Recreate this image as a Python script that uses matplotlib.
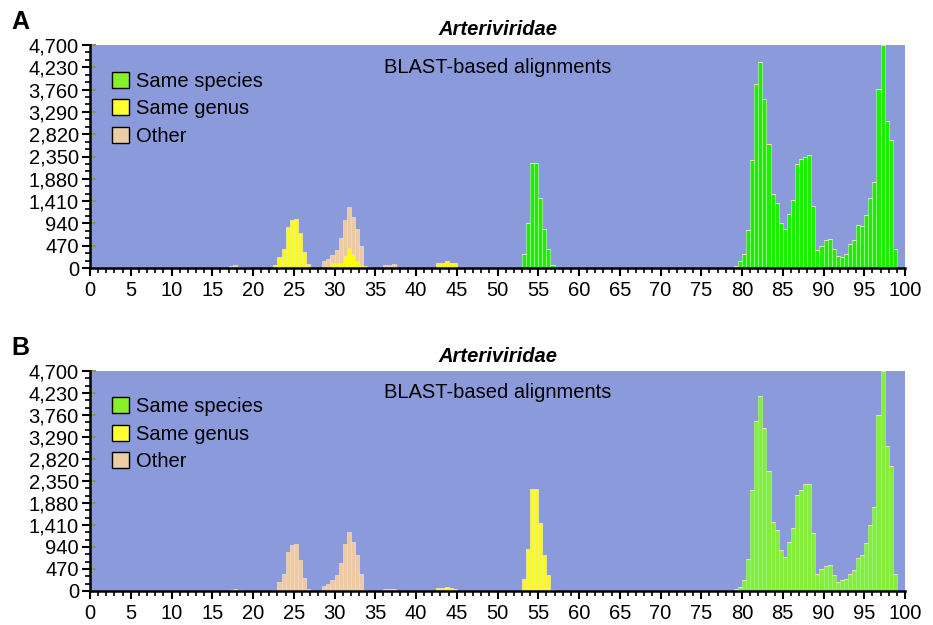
import numpy as np
import matplotlib
matplotlib.use('Agg')
from matplotlib import pyplot as plt
from matplotlib.patches import Patch
from matplotlib.ticker import MultipleLocator, FuncFormatter

plt.rcParams['font.family'] = ['Liberation Sans', 'DejaVu Sans']

# histogram bins: 0.5 wide, from 0 to 100 (% identity)
bin_width = 0.5
bin_left = np.arange(0, 100, bin_width)

# Panel A data (bin left edge -> count)
a_other_x = [17, 17.5, 18, 18.5, 19,
             28.5, 29, 29.5, 30, 30.5, 31, 31.5, 32, 32.5, 33, 33.5,
             36, 36.5, 37]
a_other_y = [40, 60, 25, 20, 15,
             155, 200, 167, 267, 520, 753, 879, 788, 668, 401, 50,
             70, 70, 80]
a_genus_x = [22.5, 23, 23.5, 24, 24.5, 25, 25.5, 26, 26.5,
             29.5, 30, 30.5, 31, 31.5, 32, 32.5, 33,
             42.5, 43, 43.5, 44, 44.5]
a_genus_y = [60, 240, 400, 860, 1013, 1027, 730, 330, 85,
             113, 113, 113, 260, 415, 295, 155, 70,
             100, 110, 140, 110, 100]
a_species_x = [53, 53.5, 54, 54.5, 55, 55.5, 56, 56.5] + list(np.arange(79, 99, 0.5))
a_species_y = [289, 957, 2209, 2223, 1470, 816, 408, 63,
               50, 140, 297, 793, 2280, 3873, 4347, 3554, 2613, 1550,
               1380, 956, 828, 1133, 1430, 2188, 2301, 2350, 2372, 1303,
               382, 460, 580, 602, 404, 262, 227, 297, 496, 580,
               913, 878, 1126, 1466, 1820, 3767, 4700, 3108, 2705, 404]

# Panel B data
b_other_x = [17, 17.5, 18,
             22.5, 23, 23.5, 24, 24.5, 25, 25.5, 26, 26.5,
             28.5, 29, 29.5, 30, 30.5, 31, 31.5, 32, 32.5, 33, 33.5,
             36, 36.5, 37]
b_other_y = [30, 50, 20,
             29, 193, 372, 837, 980, 994, 672, 286, 50,
             107, 157, 229, 336, 600, 994, 1266, 1051, 779, 372, 29,
             36, 36, 36]
b_genus_x = [42.5, 43, 43.5, 44, 44.5,
             53, 53.5, 54, 54.5, 55, 55.5, 56, 56.5]
b_genus_y = [60, 70, 85, 60, 50,
             265, 894, 2181, 2181, 1444, 765, 336, 29]
b_species_x = list(np.arange(79, 99, 0.5))
b_species_y = [50, 86, 229, 694, 2159, 3625, 4176, 3482, 2553, 1480,
               1301, 872, 729, 1051, 1337, 2052, 2159, 2281, 2281, 1230,
               372, 479, 529, 550, 336, 193, 229, 265, 372, 443,
               715, 765, 1030, 1409, 1802, 3768, 4700, 3089, 2660, 372]

y_ticks = np.arange(0, 4701, 470)
legend_labels = ['Same species', 'Same genus', 'Other']
legend_colors = ['#86f02a', '#ffff33', '#ecceA6']

bg = '#8b9adb'


def to_bins(xs, ys):
    arr = np.zeros(len(bin_left))
    for x, y in zip(xs, ys):
        arr[int(round(x / bin_width))] = y
    return arr


def draw_panel(ax, species, genus, other, green, green_edge):
    sp = to_bins(*species)
    ge = to_bins(*genus)
    ot = to_bins(*other)
    ax.set_facecolor(bg)
    ax.bar(bin_left, sp, width=bin_width, align='edge', color=green,
           edgecolor=green_edge, linewidth=0.5)
    ax.bar(bin_left, ge, bottom=sp, width=bin_width, align='edge', color='#ffff00',
           edgecolor='#f2f290', linewidth=0.5)
    ax.bar(bin_left, ot, bottom=sp + ge, width=bin_width, align='edge', color='#eecaa4',
           edgecolor='#f4dcc0', linewidth=0.5)

    ax.set_xlim(0, 100)
    ax.set_ylim(0, 4700)
    ax.xaxis.set_major_locator(MultipleLocator(5))
    ax.xaxis.set_minor_locator(MultipleLocator(1))
    ax.set_yticks(y_ticks)
    ax.yaxis.set_minor_locator(MultipleLocator(470 / 3))
    ax.yaxis.set_major_formatter(FuncFormatter(lambda v, p: f'{int(v):,}'))
    ax.tick_params(which='major', direction='out', length=6, width=1.5,
                   labelsize=14.5, pad=2)
    ax.tick_params(axis='x', which='major', pad=3.5)
    ax.tick_params(which='minor', direction='out', length=3.5, width=1.2)
    for s in ['top', 'right']:
        ax.spines[s].set_visible(False)
    for s in ['left', 'bottom']:
        ax.spines[s].set_linewidth(1.8)
    ax.set_axisbelow(False)

    # small olive inner ticks on the y axis
    sec = ax.secondary_yaxis('left')
    sec.set_yticks(y_ticks)
    sec.tick_params(direction='in', length=4, width=1.5, colors='#8e9c3c', labelleft=False)
    sec.spines['left'].set_visible(False)

    ax.text(0.5, 1.068, 'Arteriviridae', transform=ax.transAxes, ha='center',
            va='center', fontsize=14.5, fontweight='bold', fontstyle='italic')
    ax.text(0.5, 0.9, 'BLAST-based alignments', transform=ax.transAxes,
            ha='center', va='center', fontsize=14.5)

    handles = [Patch(facecolor=c, edgecolor='black', linewidth=1.0) for c in legend_colors]
    ax.legend(handles, legend_labels, loc='upper left', bbox_to_anchor=(0.027, 0.88),
              frameon=False, fontsize=14.5, handlelength=0.85, handleheight=0.85,
              handletextpad=0.35, labelspacing=0.42, borderaxespad=0, borderpad=0)


fig = plt.figure(figsize=(9.33, 6.25), dpi=100)
ax_a = fig.add_axes([0.0965, 0.5712, 0.8735, 0.3568])
ax_b = fig.add_axes([0.0965, 0.0544, 0.8735, 0.352])

draw_panel(ax_a, (a_species_x, a_species_y), (a_genus_x, a_genus_y),
           (a_other_x, a_other_y), '#1def00', '#a8f59a')
draw_panel(ax_b, (b_species_x, b_species_y), (b_genus_x, b_genus_y),
           (b_other_x, b_other_y), '#84ee3c', '#a6f27a')

fig.text(0.012, 0.965, 'A', fontsize=18, fontweight='bold', va='center')
fig.text(0.012, 0.443, 'B', fontsize=18, fontweight='bold', va='center')

fig.savefig('out.png', dpi=100)
